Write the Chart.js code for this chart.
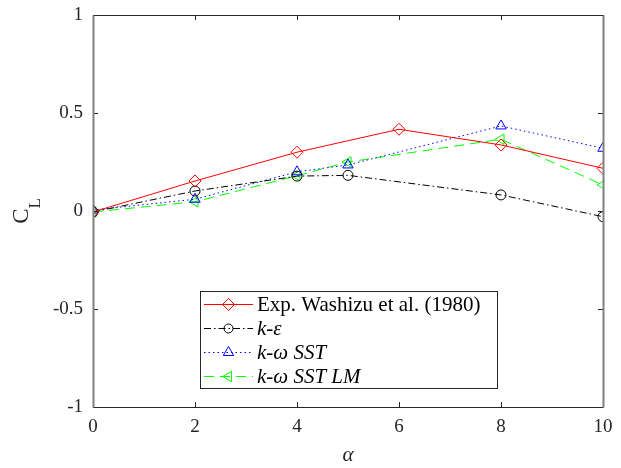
<!DOCTYPE html>
<html><head><meta charset="utf-8">
<script src="https://cdn.jsdelivr.net/npm/chart.js@4.4.1/dist/chart.umd.min.js"></script>
<style>html,body{margin:0;padding:0;background:#fff}#wrap{width:621px;height:468px}</style>
</head><body><div id="wrap"><canvas id="c" width="621" height="468"></canvas></div>
<script>
const expAlpha = [0, 2, 4, 6, 8, 10];
const expCL    = [-0.005, 0.153, 0.300, 0.417, 0.337, 0.218];
const cfdAlpha = [0, 2, 4, 5, 8, 10];
const keCL     = [-0.005, 0.102, 0.178, 0.182, 0.082, -0.029];
const sstCL    = [0.005, 0.060, 0.200, 0.235, 0.434, 0.320];
const sstlmCL  = [-0.005, 0.047, 0.180, 0.250, 0.366, 0.133];
const xTicks = [0, 2, 4, 6, 8, 10];
const xTickLabels = ['0', '2', '4', '6', '8', '10'];
const yTicks = [-1, -0.5, 0, 0.5, 1];
const yTickLabels = ['-1', '-0.5', '0', '0.5', '1'];
const seriesLabels = ['Exp. Washizu et al. (1980)', 'k-ε', 'k-ω SST', 'k-ω SST LM'];

const pts = (xs, ys) => xs.map((x, i) => ({x: x, y: ys[i]}));
const serif = "'Liberation Serif', 'DejaVu Serif', serif";

const frameAndTicks = {
  id: 'frameAndTicks',
  afterDatasetsDraw(chart) {
    const {ctx, chartArea: a, scales} = chart;
    ctx.save();
    ctx.lineWidth = 1;
    ctx.strokeStyle = '#262626';
    xTicks.forEach(v => {
      const px = Math.round(scales.x.getPixelForValue(v)) + 0.5;
      ctx.beginPath(); ctx.moveTo(px, a.bottom); ctx.lineTo(px, a.bottom - 5);
      ctx.moveTo(px, a.top); ctx.lineTo(px, a.top + 5); ctx.stroke();
    });
    yTicks.forEach(v => {
      const py = Math.round(scales.y.getPixelForValue(v)) + 0.5;
      ctx.beginPath(); ctx.moveTo(a.left, py); ctx.lineTo(a.left + 5, py);
      ctx.moveTo(a.right, py); ctx.lineTo(a.right - 5, py); ctx.stroke();
    });
    const L = Math.round(a.left) + 0.5, R = Math.round(a.right) + 0.5;
    const T = Math.round(a.top) + 0.5, B = Math.round(a.bottom) + 0.5;
    ctx.strokeStyle = '#262626';
    ctx.beginPath(); ctx.moveTo(L, T); ctx.lineTo(R, T); ctx.moveTo(L, B); ctx.lineTo(R, B); ctx.stroke();
    ctx.strokeStyle = '#808080';
    ctx.lineWidth = 2;
    ctx.beginPath(); ctx.moveTo(L, T); ctx.lineTo(L, B); ctx.moveTo(R, T); ctx.lineTo(R, B); ctx.stroke();

    // y axis title C_L
    ctx.fillStyle = '#262626';
    ctx.translate(20, (a.top + a.bottom) / 2);
    ctx.rotate(-Math.PI / 2);
    ctx.textBaseline = 'alphabetic';
    ctx.font = '23px ' + serif;
    const wC = ctx.measureText('C').width;
    ctx.font = '17px ' + serif;
    const wL = ctx.measureText('L').width;
    const x0 = -(wC + wL) / 2;
    ctx.font = '23px ' + serif;
    ctx.fillText('C', x0, 8);
    ctx.font = '17px ' + serif;
    ctx.fillText('L', x0 + wC, 20);
    ctx.restore();

    // legend inside axes
    ctx.save();
    const bx = 200.5, by = 291.5, bw = 297, bh = 97;
    ctx.fillStyle = '#fff';
    ctx.fillRect(bx, by, bw, bh);
    ctx.strokeStyle = '#262626'; ctx.lineWidth = 1;
    ctx.strokeRect(bx, by, bw, bh);
    const rows = [304, 328, 352, 376];
    chart.data.datasets.forEach((ds, i) => {
      const yy = rows[i];
      ctx.strokeStyle = ds.borderColor; ctx.lineWidth = 1;
      ctx.setLineDash(ds.borderDash || []);
      ctx.beginPath(); ctx.moveTo(204, yy + 0.5); ctx.lineTo(253, yy + 0.5); ctx.stroke();
      ctx.setLineDash([]);
      ctx.strokeStyle = ds.pointBorderColor;
      ctx.fillStyle = 'rgba(0,0,0,0)';
      Chart.helpers.drawPoint(ctx, {pointStyle: ds.pointStyle, radius: ds.legendRadius, rotation: ds.pointRotation || 0, borderWidth: 1}, 228.5, yy + 0.5);
      ctx.fillStyle = '#000';
      ctx.textBaseline = 'middle';
      let tx = 257;
      if (i === 0) {
        ctx.font = '21px ' + serif;
        ctx.fillText(ds.label, tx, yy + 1);
      } else {
        const parts = i === 1 ? [['k', true], ['-', false], ['ε', true]]
          : i === 2 ? [['k', true], ['-', false], ['ω', true], [' SST', true]]
          : [['k', true], ['-', false], ['ω', true], [' SST LM', true]];
        parts.forEach(([t, it]) => {
          ctx.font = (it ? 'italic ' : '') + '21px ' + serif;
          ctx.fillText(t, tx, yy + 1);
          tx += ctx.measureText(t).width;
        });
      }
    });
    ctx.restore();
  }
};

new Chart(document.getElementById('c'), {
  type: 'line',
  data: {
    datasets: [
      {label: seriesLabels[0], data: pts(expAlpha, expCL), borderColor: '#ff0000', backgroundColor: 'transparent',
       borderWidth: 1, pointStyle: 'rectRot', pointRadius: 6, legendRadius: 6, pointBorderWidth: 1, pointBackgroundColor: 'transparent', pointBorderColor: '#ff0000'},
      {label: seriesLabels[1], data: pts(cfdAlpha, keCL), borderColor: '#000000', backgroundColor: 'transparent',
       borderWidth: 1, borderDash: [7, 3, 1.5, 3], pointStyle: 'circle', pointRadius: 5, legendRadius: 4.5, pointBorderWidth: 1, pointBackgroundColor: 'transparent', pointBorderColor: '#000000'},
      {label: seriesLabels[2], data: pts(cfdAlpha, sstCL), borderColor: '#0000ff', backgroundColor: 'transparent',
       borderWidth: 1, borderDash: [1.5, 3], pointStyle: 'triangle', pointRadius: 6, legendRadius: 6, pointBorderWidth: 1, pointBackgroundColor: 'transparent', pointBorderColor: '#0000ff'},
      {label: seriesLabels[3], data: pts(cfdAlpha, sstlmCL), borderColor: '#00ff00', backgroundColor: 'transparent',
       borderWidth: 1, borderDash: [10, 6], pointStyle: 'triangle', pointRotation: -90, pointRadius: 6, legendRadius: 6, pointBorderWidth: 1, pointBackgroundColor: 'transparent', pointBorderColor: '#00ff00'}
    ]
  },
  options: {
    responsive: false, animation: false, maintainAspectRatio: false,
    layout: {padding: {left: 0, right: 18, top: 15, bottom: 0}},
    plugins: {legend: {display: false}, tooltip: {enabled: false}},
    elements: {line: {tension: 0}},
    scales: {
      x: {
        type: 'linear', min: 0, max: 10,
        afterBuildTicks: s => { s.ticks = xTicks.map(v => ({value: v})); },
        afterFit: s => { s.height = 61; },
        grid: {display: false}, border: {display: false},
        ticks: {color: '#262626', padding: 1, font: {family: serif, size: 19}, maxRotation: 0,
                callback: (v) => xTickLabels[xTicks.indexOf(v)]},
        title: {display: true, text: 'α', color: '#262626', font: {family: serif, size: 21, style: 'italic'}, padding: {top: 8, bottom: 0}}
      },
      y: {
        type: 'linear', min: -1, max: 1,
        afterBuildTicks: s => { s.ticks = yTicks.map(v => ({value: v})); },
        afterFit: s => { s.width = 93; },
        grid: {display: false}, border: {display: false},
        ticks: {color: '#262626', padding: 2, font: {family: serif, size: 19},
                callback: (v) => yTickLabels[yTicks.indexOf(v)]}
      }
    }
  },
  plugins: [frameAndTicks]
});
</script>
</body></html>
